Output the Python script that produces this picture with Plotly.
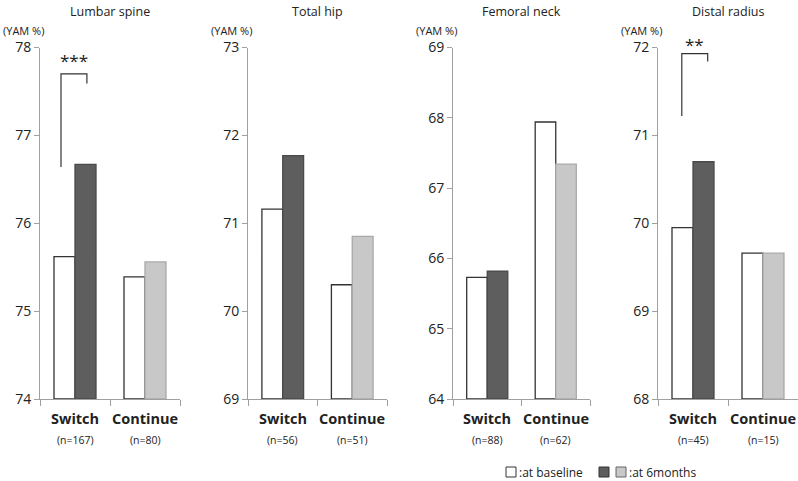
import plotly.graph_objects as go

W, H = 798, 481

sites = ["Lumbar spine", "Total hip", "Femoral neck", "Distal radius"]
groups = ["Switch", "Continue"]
n_labels = [["(n=167)", "(n=80)"], ["(n=56)", "(n=51)"], ["(n=88)", "(n=62)"], ["(n=45)", "(n=15)"]]
baseline = [[75.62, 75.39], [71.16, 70.30], [65.73, 67.94], [69.95, 69.66]]
six_months = [[76.67, 75.56], [71.77, 70.85], [65.82, 67.34], [70.70, 69.66]]
y_ranges = [[74, 78], [69, 73], [64, 69], [68, 72]]
sig_labels = ["***", None, None, "**"]

panel_px = [(40, 180), (248, 387), (453, 590), (658, 798)]
y_top_px, y_bot_px = 47.5, 399

def fx(px):
    return px / W

def fy(py):
    return 1 - py / H

FONT = "Open Sans, Lato, sans-serif"
dark_fill, light_fill = "#5e5e5e", "#c8c8c8"

fig = go.Figure()
layout = dict(
    template="none", autosize=False,
    width=W, height=H, margin=dict(l=0, r=0, t=0, b=0, pad=0),
    plot_bgcolor="white", paper_bgcolor="white",
    barmode="group", bargap=0.4, bargroupgap=0.0,
    showlegend=False, font=dict(family=FONT, color="#222"),
)
annotations = []
shapes = []

for i in range(4):
    xa = "x" if i == 0 else f"x{i+1}"
    ya = "y" if i == 0 else f"y{i+1}"
    xkey = "xaxis" if i == 0 else f"xaxis{i+1}"
    ykey = "yaxis" if i == 0 else f"yaxis{i+1}"
    x0, x1 = panel_px[i]
    lo, hi = y_ranges[i]
    fig.add_trace(go.Bar(
        x=[0, 1], y=[v - lo for v in baseline[i]], base=lo,
        xaxis=xa, yaxis=ya, offsetgroup="a",
        marker=dict(color="white", line=dict(color="#333333", width=1.3)),
    ))
    fig.add_trace(go.Bar(
        x=[0, 1], y=[v - lo for v in six_months[i]], base=lo,
        xaxis=xa, yaxis=ya, offsetgroup="b",
        marker=dict(color=[dark_fill, light_fill], line=dict(color=["#4a4a4a", "#a9a9a9"], width=1.3)),
    ))
    layout[xkey] = dict(
        domain=[fx(x0), fx(x1)], range=[-0.5, 1.5], anchor=ya, automargin=False,
        tickvals=[-0.5, 0.5, 1.5], ticktext=["", "", ""], ticks="outside", ticklen=6,
        tickcolor="#a0a0a0", showline=True, linecolor="#a0a0a0", linewidth=1,
        showgrid=False, zeroline=False, fixedrange=True,
    )
    layout[ykey] = dict(
        domain=[fy(y_bot_px), fy(y_top_px)], range=[lo, hi], anchor=xa, automargin=False,
        tickvals=list(range(lo, hi + 1)), ticks="outside", ticklen=5,
        tickcolor="#a0a0a0", showline=True, linecolor="#a0a0a0", linewidth=1,
        showgrid=False, zeroline=False, tickfont=dict(size=14, color="#222"),
        fixedrange=True,
    )
    cx = (x0 + x1) / 2
    annotations.append(dict(text=sites[i], x=fx(cx), y=fy(11), xref="paper", yref="paper",
                            xanchor="center", yanchor="middle",
                            showarrow=False, font=dict(size=12.5, color="#222")))
    annotations.append(dict(text="(YAM %)", x=fx(x0 - 17), y=fy(30), xref="paper", yref="paper",
                            xanchor="center", yanchor="middle",
                            showarrow=False, font=dict(size=11, color="#222")))
    for g in range(2):
        annotations.append(dict(text=f"<b>{groups[g]}</b>", x=g, y=fy(418), xref=xa, yref="paper",
                                xanchor="center", yanchor="middle",
                                showarrow=False, font=dict(size=14.5, color="#222")))
        annotations.append(dict(text=n_labels[i][g], x=g, y=fy(440), xref=xa, yref="paper",
                                xanchor="center", yanchor="middle",
                                showarrow=False, font=dict(size=10.5, color="#222")))

# significance brackets
def bracket(xa, ya, xl, xr, ytop, yl_bot, yr_bot, label, ylab_px):
    shapes.append(dict(type="path", xref=xa, yref=ya,
                       path=f"M {xl},{yl_bot} L {xl},{ytop} L {xr},{ytop} L {xr},{yr_bot}",
                       line=dict(color="#333", width=1.2)))
    annotations.append(dict(text=label, x=(xl + xr) / 2, y=fy(ylab_px), xref=xa, yref="paper",
                            xanchor="center", yanchor="middle",
                            showarrow=False, font=dict(size=17, color="#222")))

bracket("x", "y", -0.2, 0.17, 77.70, 76.64, 77.59, sig_labels[0], 60)
bracket("x4", "y4", -0.16, 0.21, 71.93, 71.22, 71.84, sig_labels[3], 44)

# legend
shapes.append(dict(type="rect", xref="paper", yref="paper", x0=fx(506), x1=fx(516), y0=fy(477), y1=fy(467),
                   fillcolor="white", line=dict(color="#333", width=1)))
shapes.append(dict(type="rect", xref="paper", yref="paper", x0=fx(599), x1=fx(609), y0=fy(477), y1=fy(467),
                   fillcolor=dark_fill, line=dict(color="#333", width=1)))
shapes.append(dict(type="rect", xref="paper", yref="paper", x0=fx(616), x1=fx(626), y0=fy(477), y1=fy(467),
                   fillcolor=light_fill, line=dict(color="#666", width=1)))
annotations.append(dict(text=":at baseline", x=fx(517), y=fy(472), xref="paper", yref="paper",
                        xanchor="left", yanchor="middle", showarrow=False, font=dict(size=12, color="#222")))
annotations.append(dict(text=":at 6months", x=fx(627), y=fy(472), xref="paper", yref="paper",
                        xanchor="left", yanchor="middle", showarrow=False, font=dict(size=12, color="#222")))

layout["annotations"] = annotations
layout["shapes"] = shapes
fig.update_layout(**layout)
fig.write_html("out.html", config={"responsive": False, "displayModeBar": False},
               post_script="document.body.style.margin='0';document.body.style.overflow='hidden';")
